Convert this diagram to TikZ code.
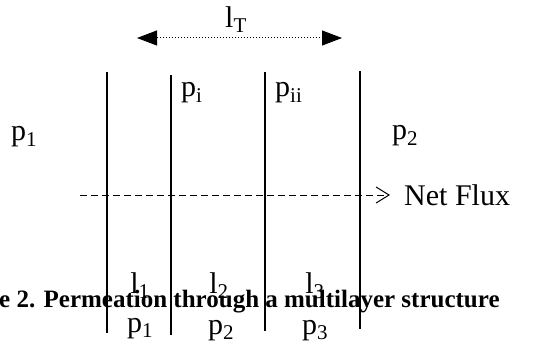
\documentclass[tikz,border=0pt]{standalone}
\usepackage{fontspec}
\setmainfont{Liberation Serif}
\usetikzlibrary{arrows.meta}
\begin{document}
\begin{tikzpicture}[x=1pt,y=-1pt,
  wall/.style={line width=1.3pt},
  lbl/.style={font=\fontsize{30}{32}\selectfont, inner sep=0pt},
  captxt/.style={font=\fontsize{25}{28}\selectfont\bfseries, inner sep=0pt}]
\useasboundingbox (0,0) rectangle (537,344);
\clip (0,0) rectangle (537,344);
% walls
\coordinate (w1t) at (107,72);  \coordinate (w1b) at (107,333);
\coordinate (w2t) at (171,75);  \coordinate (w2b) at (171,335);
\coordinate (w3t) at (265,72);  \coordinate (w3b) at (265,331);
\coordinate (w4t) at (360,71);  \coordinate (w4b) at (360,329);
% caption
\node[captxt, anchor=base west] (caption) at (-1,307) {e 2. Permeation through a multilayer structure};
\draw[wall] (w1t) -- (w1b);
\draw[wall] (w2t) -- (w2b);
\draw[wall] (w3t) -- (w3b);
\draw[wall] (w4t) -- (w4b);
% total thickness
\coordinate (la) at (137,38);
\coordinate (lb) at (342,38);
\draw[line width=1pt, dotted, {Triangle[length=20pt,width=15pt]}-{Triangle[length=20pt,width=15pt]}] (la) -- (lb);
\node[lbl] (lT) at (236,20) {l\textsubscript{T}};
% interface pressures
\node[lbl, anchor=base west] (pi) at (181,97) {p\textsubscript{i}};
\node[lbl, anchor=base west] (pii) at (275,97) {p\textsubscript{ii}};
% outer pressures
\node[lbl] (p1) at (24,137) {p\textsubscript{1}};
\node[lbl] (p2) at (405,136) {p\textsubscript{2}};
% net flux
\coordinate (fa) at (80,195);
\node[lbl, anchor=west] (flux) at (404,195) {Net Flux};
\draw[line width=0.8pt, dash pattern=on 7pt off 4pt, -{Straight Barb[length=13pt,width=16pt,line width=1pt]}] (fa) -- ([xshift=-14pt]flux.west);
% layer labels
\node[lbl, anchor=base] (l1) at (140,293) {l\textsubscript{1}};
\node[lbl, anchor=base] (l2) at (219,293) {l\textsubscript{2}};
\node[lbl, anchor=base] (l3) at (315,293) {l\textsubscript{3}};
\node[lbl, anchor=base] (q1) at (140,332) {p\textsubscript{1}};
\node[lbl, anchor=base] (q2) at (221,334) {p\textsubscript{2}};
\node[lbl, anchor=base] (q3) at (315,334) {p\textsubscript{3}};
\end{tikzpicture}
\end{document}
